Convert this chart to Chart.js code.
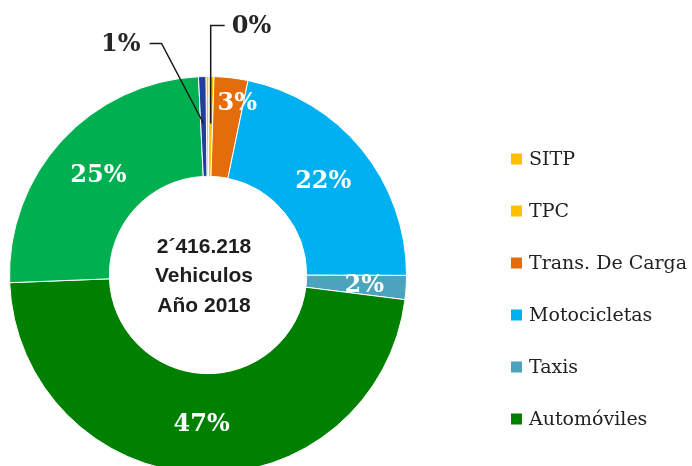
<!DOCTYPE html>
<html>
<head>
<meta charset="utf-8">
<script src="https://cdn.jsdelivr.net/npm/chart.js@4.4.0/dist/chart.umd.min.js"></script>
<style>
    html, body { margin: 0; padding: 0; background: #ffffff; overflow: hidden; }
    #graficoVehiculos { display: block; }
</style>
</head>
<body>
<canvas id="graficoVehiculos" width="692" height="480"></canvas>
<script>
//*******DADOS*******
var categorias = ["SITP", "TPC", "Trans. De Carga", "Motocicletas", "Taxis", "Automóviles", "Camperos y Camionetas", "Otros"];
var porcentajes = [0.25, 0.4, 2.75, 21.8, 1.95, 47.4, 24.85, 0.6];
var cores = ["#FFC000", "#FFC000", "#E46C0A", "#00B0F0", "#4BA3BE", "#008000", "#00B050", "#203EA0"];
var textoCentro = ["2´416.218", "Vehiculos", "Año 2018"];
var itensLegenda = 6;

// fatias pequenas levam o rotulo fora do anel, com linha guia
var rotulosExternos = [1, 7];
var rotulosOcultos = [0];
var ajusteRotulos = { 2: { r: 25, dx: 9 }, 4: { r: 8, dx: 0 } };

function RotuloPorcentagem(valor) {
    return Math.round(valor) + "%";
}

//*******ROTULOS*******
var pluginRotulos = {
    id: "rotulos",
    afterDatasetsDraw: function (chart) {
        var ctx = chart.ctx;
        var arcos = chart.getDatasetMeta(0).data;
        var centro = arcos[0];

        ctx.save();
        ctx.textAlign = "center";
        ctx.textBaseline = "middle";

        // texto no centro do anel
        ctx.fillStyle = "#1e1e1e";
        ctx.font = "bold 21px 'Liberation Sans', Arial, sans-serif";
        textoCentro.forEach(function (linha, i) {
            ctx.fillText(linha, centro.x - 4, centro.y + 1.5 + (i - 1) * 29.5);
        });

        // porcentagens dentro das fatias
        ctx.fillStyle = "#ffffff";
        ctx.font = "bold 24px 'DejaVu Serif', serif";
        arcos.forEach(function (arco, i) {
            if (rotulosExternos.indexOf(i) >= 0 || rotulosOcultos.indexOf(i) >= 0)
                return;
            var ajuste = ajusteRotulos[i] || { r: 0, dx: 0 };
            var angulo = (arco.startAngle + arco.endAngle) / 2;
            var r = (arco.innerRadius + arco.outerRadius) / 2 + ajuste.r;
            ctx.fillText(RotuloPorcentagem(porcentajes[i]), arco.x + Math.cos(angulo) * r + ajuste.dx, arco.y + Math.sin(angulo) * r + 1);
        });

        // porcentagens externas com linha guia
        var topo = centro.y - centro.outerRadius;
        ctx.strokeStyle = "#1a1a1a";
        ctx.lineWidth = 1.5;
        ctx.fillStyle = "#262626";
        ctx.font = "bold 24px 'DejaVu Serif', serif";
        rotulosExternos.forEach(function (i) {
            var arco = arcos[i];
            var angulo = (arco.startAngle + arco.endAngle) / 2;
            var r = (arco.innerRadius + arco.outerRadius) / 2 + 3;
            var px = arco.x + Math.cos(angulo) * r;
            var py = arco.y + Math.sin(angulo) * r;
            var direita = Math.cos(angulo) >= 0;

            ctx.beginPath();
            if (direita) {
                ctx.moveTo(px, py);
                ctx.lineTo(px, topo - 51);
                ctx.lineTo(px + 14, topo - 51);
                ctx.stroke();
                ctx.textAlign = "left";
                ctx.fillText(RotuloPorcentagem(porcentajes[i]), px + 21, topo - 50);
            } else {
                ctx.moveTo(px, py);
                ctx.lineTo(px - 42, topo - 33);
                ctx.lineTo(px - 54, topo - 33);
                ctx.stroke();
                ctx.textAlign = "right";
                ctx.fillText(RotuloPorcentagem(porcentajes[i]), px - 63, topo - 32);
            }
        });
        ctx.restore();
    }
};

//*******LEGENDA*******
var pluginLegenda = {
    id: "legenda",
    afterDraw: function (chart) {
        var ctx = chart.ctx;
        ctx.save();
        ctx.textAlign = "left";
        ctx.textBaseline = "middle";
        ctx.font = "19px 'DejaVu Serif', serif";
        for (var i = 0; i < itensLegenda; i++) {
            var y = 159 + i * 52;
            ctx.fillStyle = cores[i];
            ctx.fillRect(511, y - 5.5, 11, 11);
            ctx.fillStyle = "#222222";
            ctx.fillText(categorias[i], 529, y + 1);
        }
        ctx.restore();
    }
};

//*******GRAFICO*******
var grafico = new Chart(document.getElementById("graficoVehiculos"), {
    type: "doughnut",
    data: {
        labels: categorias,
        datasets: [{
            data: porcentajes,
            backgroundColor: cores,
            borderColor: "#ffffff",
            borderWidth: 1
        }]
    },
    options: {
        responsive: false,
        animation: false,
        cutout: "49.7%",
        rotation: -0.6,
        layout: {
            padding: { left: 9, right: 285, top: 76, bottom: 6 }
        },
        plugins: {
            legend: { display: false },
            tooltip: { enabled: false }
        }
    },
    plugins: [pluginRotulos, pluginLegenda]
});
</script>
</body>
</html>
